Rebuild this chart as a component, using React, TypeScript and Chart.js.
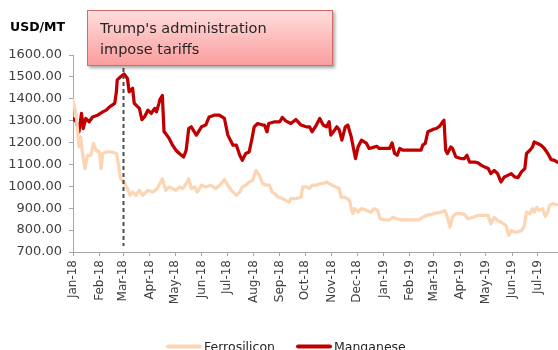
import React, { useEffect, useRef } from "react";
import { Chart, registerables } from "chart.js";

Chart.register(...registerables);

// Month tick labels and their day offsets from 1 Jan 2018
const monthLabels = [
  "Jan-18", "Feb-18", "Mar-18", "Apr-18", "May-18", "Jun-18", "Jul-18", "Aug-18", "Sep-18",
  "Oct-18", "Nov-18", "Dec-18", "Jan-19", "Feb-19", "Mar-19", "Apr-19", "May-19", "Jun-19", "Jul-19",
];
const monthDays = [0, 31, 59, 90, 120, 151, 181, 212, 243, 273, 304, 334, 365, 396, 424, 455, 485, 516, 546];

// Manganese (USD/MT), days since 1 Jan 2018
const mnDays = [
  0, 4, 7, 10, 12, 15, 19, 23, 29, 35, 39, 43, 49, 51, 52, 56, 60, 64, 66, 70, 72, 78, 81, 84, 88, 92, 96, 98,
  101, 102, 105, 107, 109, 113, 117, 121, 125, 130, 133, 136, 139, 145, 151, 156, 160, 166, 172, 178, 182, 188,
  192, 196, 199, 203, 207, 210, 213, 217, 223, 225, 228, 230, 237, 243, 246, 250, 256, 262, 268, 274, 278, 281,
  286, 290, 294, 298, 301, 303, 306, 310, 313, 316, 320, 323, 327, 332, 335, 339, 345, 348, 352, 357, 360, 372,
  375, 378, 381, 384, 388, 409, 411, 414, 417, 423, 427, 431, 435, 436, 438, 440, 444, 446, 450, 456, 460, 463,
  466, 472, 476, 480, 484, 488, 491, 495, 499, 503, 507, 511, 515, 519, 523, 527, 531, 533, 537, 540, 542, 546,
  550, 554, 558, 562, 566, 569,
];
const mnValues = [
  1310, 1295, 1249, 1333, 1264, 1310, 1295, 1317, 1325, 1340, 1348, 1363, 1379, 1432, 1486, 1501, 1513, 1493,
  1432, 1448, 1379, 1356, 1305, 1317, 1348, 1333, 1356, 1340, 1379, 1395, 1415, 1250, 1241, 1219, 1188, 1165,
  1150, 1134, 1165, 1264, 1272, 1234, 1272, 1280, 1317, 1325, 1325, 1310, 1234, 1188, 1188, 1142, 1119, 1150,
  1157, 1211, 1272, 1287, 1280, 1280, 1249, 1287, 1295, 1295, 1315, 1299, 1287, 1305, 1280, 1272, 1272, 1249,
  1280, 1310, 1280, 1272, 1295, 1234, 1249, 1272, 1257, 1211, 1272, 1280, 1226, 1127, 1180, 1211, 1196, 1173,
  1177, 1183, 1173, 1173, 1198, 1150, 1142, 1173, 1165, 1165, 1188, 1196, 1249, 1260, 1264, 1275, 1298, 1302,
  1165, 1150, 1180, 1173, 1134, 1127, 1127, 1142, 1111, 1111, 1107, 1096, 1088, 1081, 1058, 1073, 1058, 1020,
  1043, 1050, 1058, 1043, 1040, 1066, 1081, 1150, 1165, 1180, 1203, 1196, 1188, 1173, 1150, 1122, 1119, 1111,
];

// Ferrosilicon (USD/MT), days since 1 Jan 2018
const fsDays = [
  0, 4, 7, 9, 11, 14, 17, 21, 24, 27, 31, 33, 35, 39, 45, 51, 52, 56, 60, 64, 67, 70, 74, 78, 82, 88, 94, 99,
  105, 109, 113, 117, 121, 125, 129, 133, 136, 139, 143, 146, 151, 156, 162, 168, 174, 178, 182, 186, 192, 196,
  199, 203, 207, 211, 215, 219, 223, 227, 231, 234, 237, 241, 246, 250, 254, 256, 262, 268, 270, 274, 278, 281,
  286, 290, 294, 298, 301, 305, 309, 313, 315, 319, 322, 325, 327, 329, 331, 335, 339, 345, 350, 354, 358, 361,
  366, 372, 376, 380, 386, 407, 411, 415, 421, 427, 433, 437, 440, 443, 446, 450, 456, 460, 464, 470, 476, 488,
  491, 495, 499, 503, 509, 512, 515, 519, 523, 527, 530, 533, 537, 540, 542, 545, 548, 552, 555, 558, 560, 564,
  568,
];
const fsValues = [
  1394, 1317, 1180, 1226, 1157, 1081, 1142, 1142, 1196, 1165, 1157, 1081, 1150, 1157, 1157, 1150, 1134, 1035,
  1020, 990, 959, 974, 959, 982, 959, 982, 974, 990, 1035, 982, 997, 990, 982, 997, 990, 1012, 1035, 990, 997,
  974, 1005, 997, 1005, 990, 1012, 1031, 1005, 982, 959, 974, 997, 1005, 1020, 1027, 1073, 1050, 1012, 1005,
  1005, 974, 967, 951, 944, 936, 928, 944, 944, 951, 997, 997, 990, 1005, 1005, 1012, 1012, 1020, 1012, 1005,
  997, 990, 951, 951, 944, 936, 898, 875, 898, 882, 898, 890, 882, 898, 890, 852, 847, 847, 859, 852, 847, 847,
  859, 867, 872, 878, 882, 890, 859, 814, 859, 875, 875, 872, 852, 859, 867, 867, 829, 859, 844, 836, 821, 776,
  798, 791, 791, 798, 814, 882, 875, 898, 882, 905, 890, 898, 863, 882, 913, 921, 917,
];

const yTitle = "USD/MT";
const annotationDay = 59; // 1 Mar 2018
const annotationLines = ["Trump's administration", "impose tariffs"];

const FONT = "'DejaVu Sans', sans-serif";

const overlayPlugin = {
  id: "overlay",
  afterDatasetsDraw(chart: any) {
    const { ctx, scales } = chart;
    const x = Math.round(scales.x.getPixelForValue(annotationDay)) + 0.5;
    ctx.save();
    ctx.strokeStyle = "#4d4d4d";
    ctx.lineWidth = 2;
    ctx.setLineDash([4, 3]);
    ctx.beginPath();
    ctx.moveTo(x, 68);
    ctx.lineTo(x, 246);
    ctx.stroke();
    ctx.restore();
  },
  afterDraw(chart: any) {
    const { ctx } = chart;
    ctx.save();
    // y title
    ctx.fillStyle = "#000000";
    ctx.font = `bold 12.5px ${FONT}`;
    ctx.textBaseline = "alphabetic";
    ctx.textAlign = "left";
    ctx.fillText(yTitle, 10, 31);

    // annotation box
    const bx = 87, by = 10, bw = 246, bh = 56;
    ctx.save();
    ctx.shadowColor = "rgba(0,0,0,0.35)";
    ctx.shadowBlur = 3;
    ctx.shadowOffsetX = 2;
    ctx.shadowOffsetY = 2;
    const g = ctx.createLinearGradient(0, by, 0, by + bh);
    g.addColorStop(0, "#ffdede");
    g.addColorStop(1, "#fb9c9c");
    ctx.fillStyle = g;
    ctx.fillRect(bx, by, bw, bh);
    ctx.restore();
    ctx.strokeStyle = "#d46a6a";
    ctx.lineWidth = 1;
    ctx.strokeRect(bx + 0.5, by + 0.5, bw - 1, bh - 1);
    ctx.fillStyle = "#262626";
    ctx.font = `14.5px ${FONT}`;
    ctx.fillText(annotationLines[0], 100, 32.5);
    ctx.fillText(annotationLines[1], 100, 53.5);

    // legend
    const items = chart.data.datasets.map((d: any) => ({ label: d.label, color: d.borderColor }));
    const pos = [
      { x0: 168, x1: 200, tx: 204 },
      { x0: 298, x1: 330, tx: 334 },
    ];
    ctx.font = `12.5px ${FONT}`;
    ctx.lineCap = "round";
    items.forEach((it: any, i: number) => {
      const p = pos[i];
      ctx.strokeStyle = it.color;
      ctx.lineWidth = 4;
      ctx.beginPath();
      ctx.moveTo(p.x0, 346.5);
      ctx.lineTo(p.x1, 346.5);
      ctx.stroke();
      ctx.fillStyle = "#262626";
      ctx.fillText(it.label, p.tx, 350.5);
    });
    ctx.restore();
  },
};

export default function App() {
  const ref = useRef<HTMLCanvasElement | null>(null);
  useEffect(() => {
    document.body.style.margin = "0";
    const canvas = ref.current!;
    const axisColor = "#a6a6a6";
    const chart = new Chart(canvas, {
      type: "line",
      data: {
        datasets: [
          {
            label: "Ferrosilicon",
            data: fsDays.map((d, i) => ({ x: d, y: fsValues[i] })),
            borderColor: "#fcd5b5",
            backgroundColor: "#fcd5b5",
            borderWidth: 3.25,
            pointRadius: 0,
            tension: 0,
            fill: false,
            borderJoinStyle: "round",
            borderCapStyle: "round",
          },
          {
            label: "Manganese",
            data: mnDays.map((d, i) => ({ x: d, y: mnValues[i] })),
            borderColor: "#c00000",
            backgroundColor: "#c00000",
            borderWidth: 3.25,
            pointRadius: 0,
            tension: 0,
            fill: false,
            borderJoinStyle: "round",
            borderCapStyle: "round",
          },
        ],
      },
      options: {
        responsive: false,
        animation: false,
        devicePixelRatio: 1,
        layout: { padding: { top: 55, left: 0, right: 0, bottom: 0 } },
        plugins: {
          legend: { display: false },
          tooltip: { enabled: false },
          title: { display: false },
        },
        scales: {
          x: {
            type: "linear",
            min: 0,
            max: 570,
            afterFit: (s: any) => {
              s.height = 98;
            },
            afterBuildTicks: (s: any) => {
              s.ticks = monthDays.map((v) => ({ value: v }));
            },
            ticks: {
              autoSkip: false,
              minRotation: 90,
              maxRotation: 90,
              padding: 4,
              color: "#404040",
              font: { family: FONT, size: 12 },
              callback: (_v: any, i: number) => monthLabels[i],
            },
            grid: { drawOnChartArea: false, drawTicks: true, tickLength: 4, color: axisColor },
            border: { color: axisColor, width: 1 },
          },
          y: {
            min: 700,
            max: 1600,
            afterFit: (s: any) => {
              s.width = 73;
            },
            ticks: {
              stepSize: 100,
              padding: 7,
              color: "#404040",
              font: { family: FONT, size: 13 },
              callback: (v: any) => Number(v).toFixed(2),
            },
            grid: { drawOnChartArea: false, drawTicks: true, tickLength: 4, color: axisColor },
            border: { color: axisColor, width: 1 },
          },
        },
      },
      plugins: [overlayPlugin],
    } as any);
    return () => chart.destroy();
  }, []);
  return <canvas ref={ref} width={558} height={350} style={{ display: "block" }} />;
}
